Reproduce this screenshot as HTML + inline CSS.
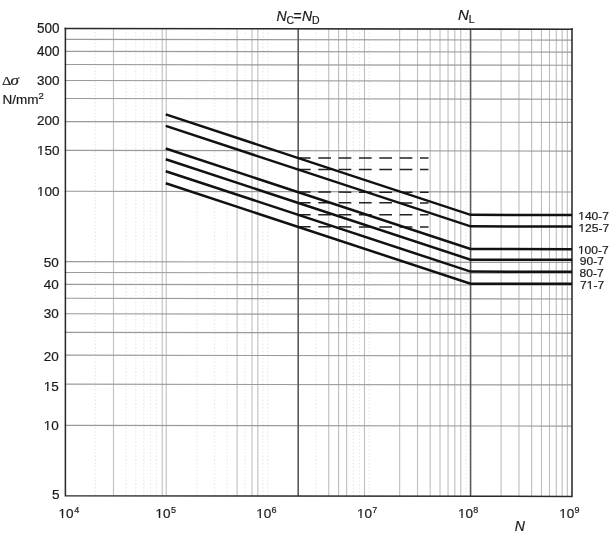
<!DOCTYPE html><html><head><meta charset="utf-8"><style>html,body{margin:0;padding:0;background:#fff;}svg{display:block;will-change:transform}text{font-family:"Liberation Sans",Arial,sans-serif;fill:#1a1a1a;stroke:#1a1a1a;stroke-width:0.2px}.s{font-family:"Liberation Serif","Times New Roman",serif}</style></head><body>
<svg width="614" height="536" viewBox="0 0 614 536">
<rect width="614" height="536" fill="#fff"/>
<g transform="matrix(1 0.001381 0 1 0 -0.0897)">
<path d="M95.34 28.5V495.7M125.87 28.5V495.7M135.70 28.5V495.7M143.74 28.5V495.7M150.53 28.5V495.7M156.41 28.5V495.7M196.78 28.5V495.7M214.64 28.5V495.7M227.31 28.5V495.7M245.17 28.5V495.7M263.04 28.5V495.7M267.68 28.5V495.7M316.08 28.5V495.7M353.40 28.5V495.7M359.29 28.5V495.7M369.12 28.5V495.7M465.91 28.5V495.7" stroke="#e9e9e9" stroke-width="1.2" stroke-dasharray="1.5 2" fill="none"/>
<path d="M113.50 28.5V495.7M162.20 28.5V495.7M166.24 28.5V495.7M237.14 28.5V495.7M251.97 28.5V495.7M257.85 28.5V495.7" stroke="#c2c2c2" stroke-width="1.15" fill="none"/>
<path d="M328.75 28.5V495.7M338.58 28.5V495.7M346.61 28.5V495.7M364.48 28.5V495.7M399.65 28.5V495.7M417.52 28.5V495.7M430.19 28.5V495.7M440.02 28.5V495.7M448.05 28.5V495.7M454.84 28.5V495.7M460.73 28.5V495.7M501.09 28.5V495.7M518.95 28.5V495.7M531.63 28.5V495.7M541.46 28.5V495.7M549.49 28.5V495.7M556.28 28.5V495.7M562.16 28.5V495.7M567.35 28.5V495.7" stroke="#bebebe" stroke-width="1.1" fill="none"/>
<path d="M64.8 39.40H572.0M64.8 51.35H572.0M64.8 64.55H572.0M64.8 80.50H572.0M64.8 98.50H572.0M64.8 121.60H572.0M64.8 150.40H572.0M64.8 191.30H572.0M64.8 261.70H572.0M64.8 272.50H572.0M64.8 284.40H572.0M64.8 298.30H572.0M64.8 313.80H572.0M64.8 332.40H572.0M64.8 355.20H572.0M64.8 384.20H572.0M64.8 425.40H572.0" stroke="#9a9a9a" stroke-width="1.15" fill="none"/>
<path d="M298.21 28.5V495.7M470.56 28.5V495.7" stroke="#5a5a5a" stroke-width="1.6" fill="none"/>
<path d="M65.40 27.65V495.70H571.99V27.65" fill="none" stroke="#2a2a2a" stroke-width="1.55" stroke-linejoin="miter"/>
<path d="M297.91 157.61H428.5M297.91 169.10H428.5M297.91 191.74H428.5M297.91 202.42H428.5M297.91 214.37H428.5M297.91 226.48H428.5" stroke="#222" stroke-width="1.5" stroke-dasharray="12.7 7.65" fill="none"/>
<path d="M165.74 114.29L470.56 214.30H571.99" fill="none" stroke="#111" stroke-width="2.5"/>
<path d="M165.74 125.79L470.56 225.79H571.99" fill="none" stroke="#111" stroke-width="2.5"/>
<path d="M165.74 148.42L470.56 248.43H571.99" fill="none" stroke="#111" stroke-width="2.5"/>
<path d="M165.74 159.11L470.56 259.11H571.99" fill="none" stroke="#111" stroke-width="2.5"/>
<path d="M165.74 171.06L470.56 271.06H571.99" fill="none" stroke="#111" stroke-width="2.5"/>
<path d="M165.74 183.17L470.56 283.17H571.99" fill="none" stroke="#111" stroke-width="2.5"/>
<path d="M64.55 28.50H572.84" fill="none" stroke="#2a2a2a" stroke-width="1.55"/>
</g>
<g transform="translate(59.45,32.9) scale(0.98,1)"><text font-size="13.8" text-anchor="end">500</text></g>
<g transform="translate(59.45,55.8) scale(0.98,1)"><text font-size="13.8" text-anchor="end">400</text></g>
<g transform="translate(59.45,84.8) scale(1.04,1)"><text font-size="13" text-anchor="end">300</text></g>
<g transform="translate(59.45,125.3) scale(1.04,1)"><text font-size="13" text-anchor="end">200</text></g>
<g transform="translate(59.45,154.9) scale(1.04,1)"><text font-size="13" text-anchor="end">150</text><rect x="-21.40" y="-1.57" width="2.88" height="3.07" fill="#fff"/><rect x="-17.17" y="-1.57" width="2.78" height="3.07" fill="#fff"/></g>
<g transform="translate(59.45,196.1) scale(1.04,1)"><text font-size="13" text-anchor="end">100</text><rect x="-21.40" y="-1.57" width="2.88" height="3.07" fill="#fff"/><rect x="-17.17" y="-1.57" width="2.78" height="3.07" fill="#fff"/></g>
<g transform="translate(58.75,267.4) scale(1.04,1)"><text font-size="13" text-anchor="end">50</text></g>
<g transform="translate(58.75,288.9) scale(1.04,1)"><text font-size="13" text-anchor="end">40</text></g>
<g transform="translate(58.75,318.3) scale(1.04,1)"><text font-size="13" text-anchor="end">30</text></g>
<g transform="translate(58.75,360.9) scale(1.04,1)"><text font-size="13" text-anchor="end">20</text></g>
<g transform="translate(58.75,390.9) scale(1.04,1)"><text font-size="13" text-anchor="end">15</text><rect x="-14.17" y="-1.57" width="2.88" height="3.07" fill="#fff"/><rect x="-9.94" y="-1.57" width="2.78" height="3.07" fill="#fff"/></g>
<g transform="translate(58.75,429.9) scale(1.04,1)"><text font-size="13" text-anchor="end">10</text><rect x="-14.17" y="-1.57" width="2.88" height="3.07" fill="#fff"/><rect x="-9.94" y="-1.57" width="2.78" height="3.07" fill="#fff"/></g>
<g transform="translate(59.45,499.0) scale(1.04,1)"><text font-size="13" text-anchor="end">5</text></g>
<text x="58.6" y="517.6" font-size="13.5">10</text><text x="74.3" y="512.6" font-size="9">4</text><rect x="58.93" y="515.99" width="2.97" height="3.11" fill="#fff"/><rect x="63.29" y="515.99" width="2.86" height="3.11" fill="#fff"/>
<text x="155.6" y="518.1" font-size="13.5">10</text><text x="171.0" y="513.2" font-size="9">5</text><rect x="155.93" y="516.49" width="2.97" height="3.11" fill="#fff"/><rect x="160.29" y="516.49" width="2.86" height="3.11" fill="#fff"/>
<text x="256.3" y="518.1" font-size="13.5">10</text><text x="271.6" y="512.6" font-size="9">6</text><rect x="256.63" y="516.49" width="2.97" height="3.11" fill="#fff"/><rect x="260.99" y="516.49" width="2.86" height="3.11" fill="#fff"/>
<text x="357.0" y="518.1" font-size="13.5">10</text><text x="372.3" y="512.6" font-size="9">7</text><rect x="357.33" y="516.49" width="2.97" height="3.11" fill="#fff"/><rect x="361.69" y="516.49" width="2.86" height="3.11" fill="#fff"/>
<text x="458.0" y="518.1" font-size="13.5">10</text><text x="473.3" y="512.6" font-size="9">8</text><rect x="458.33" y="516.49" width="2.97" height="3.11" fill="#fff"/><rect x="462.69" y="516.49" width="2.86" height="3.11" fill="#fff"/>
<text x="559.2" y="518.1" font-size="13.5">10</text><text x="574.5" y="512.6" font-size="9">9</text><rect x="559.53" y="516.49" width="2.97" height="3.11" fill="#fff"/><rect x="563.89" y="516.49" width="2.86" height="3.11" fill="#fff"/>
<g transform="translate(578.2,220.2) scale(1.04,1)"><text font-size="11.6">140-7</text><rect x="0.18" y="-1.47" width="2.63" height="2.97" fill="#fff"/><rect x="4.04" y="-1.47" width="2.54" height="2.97" fill="#fff"/></g>
<g transform="translate(578.4,232.1) scale(1.04,1)"><text font-size="11.6">125-7</text><rect x="0.18" y="-1.47" width="2.63" height="2.97" fill="#fff"/><rect x="4.04" y="-1.47" width="2.54" height="2.97" fill="#fff"/></g>
<g transform="translate(577.9,253.6) scale(1.04,1)"><text font-size="11.6">100-7</text><rect x="0.18" y="-1.47" width="2.63" height="2.97" fill="#fff"/><rect x="4.04" y="-1.47" width="2.54" height="2.97" fill="#fff"/></g>
<g transform="translate(579.8,265.0) scale(1.04,1)"><text font-size="11.6">90-7</text></g>
<g transform="translate(579.5,276.5) scale(1.04,1)"><text font-size="11.6">80-7</text></g>
<g transform="translate(580.1,289.2) scale(1.04,1)"><text font-size="11.6">71-7</text><rect x="6.64" y="-1.47" width="2.63" height="2.97" fill="#fff"/><rect x="10.49" y="-1.47" width="2.54" height="2.97" fill="#fff"/></g>
<text x="514.8" y="531" font-size="14" font-style="italic">N</text>
<text class="s" transform="translate(1.9,85) scale(1.12,1)" font-size="13">Δ</text>
<text class="s" transform="translate(10.6,85) scale(1.22,1)" font-size="14" font-style="italic">σ</text>
<text x="2.5" y="103.9" font-size="13.5">N/mm</text><text x="38.6" y="99.2" font-size="9.5">2</text>
<text x="276.4" y="20.5" font-size="14" font-style="italic">N</text>
<text x="286.6" y="23.5" font-size="10.5">C</text>
<text x="293.6" y="20.5" font-size="14">=</text>
<text x="301.9" y="20.5" font-size="14" font-style="italic">N</text>
<text x="312.1" y="23.5" font-size="10.5">D</text>
<text x="458.0" y="19.5" font-size="15" font-style="italic">N</text>
<text x="468.8" y="22.5" font-size="10.5">L</text>
</svg></body></html>
